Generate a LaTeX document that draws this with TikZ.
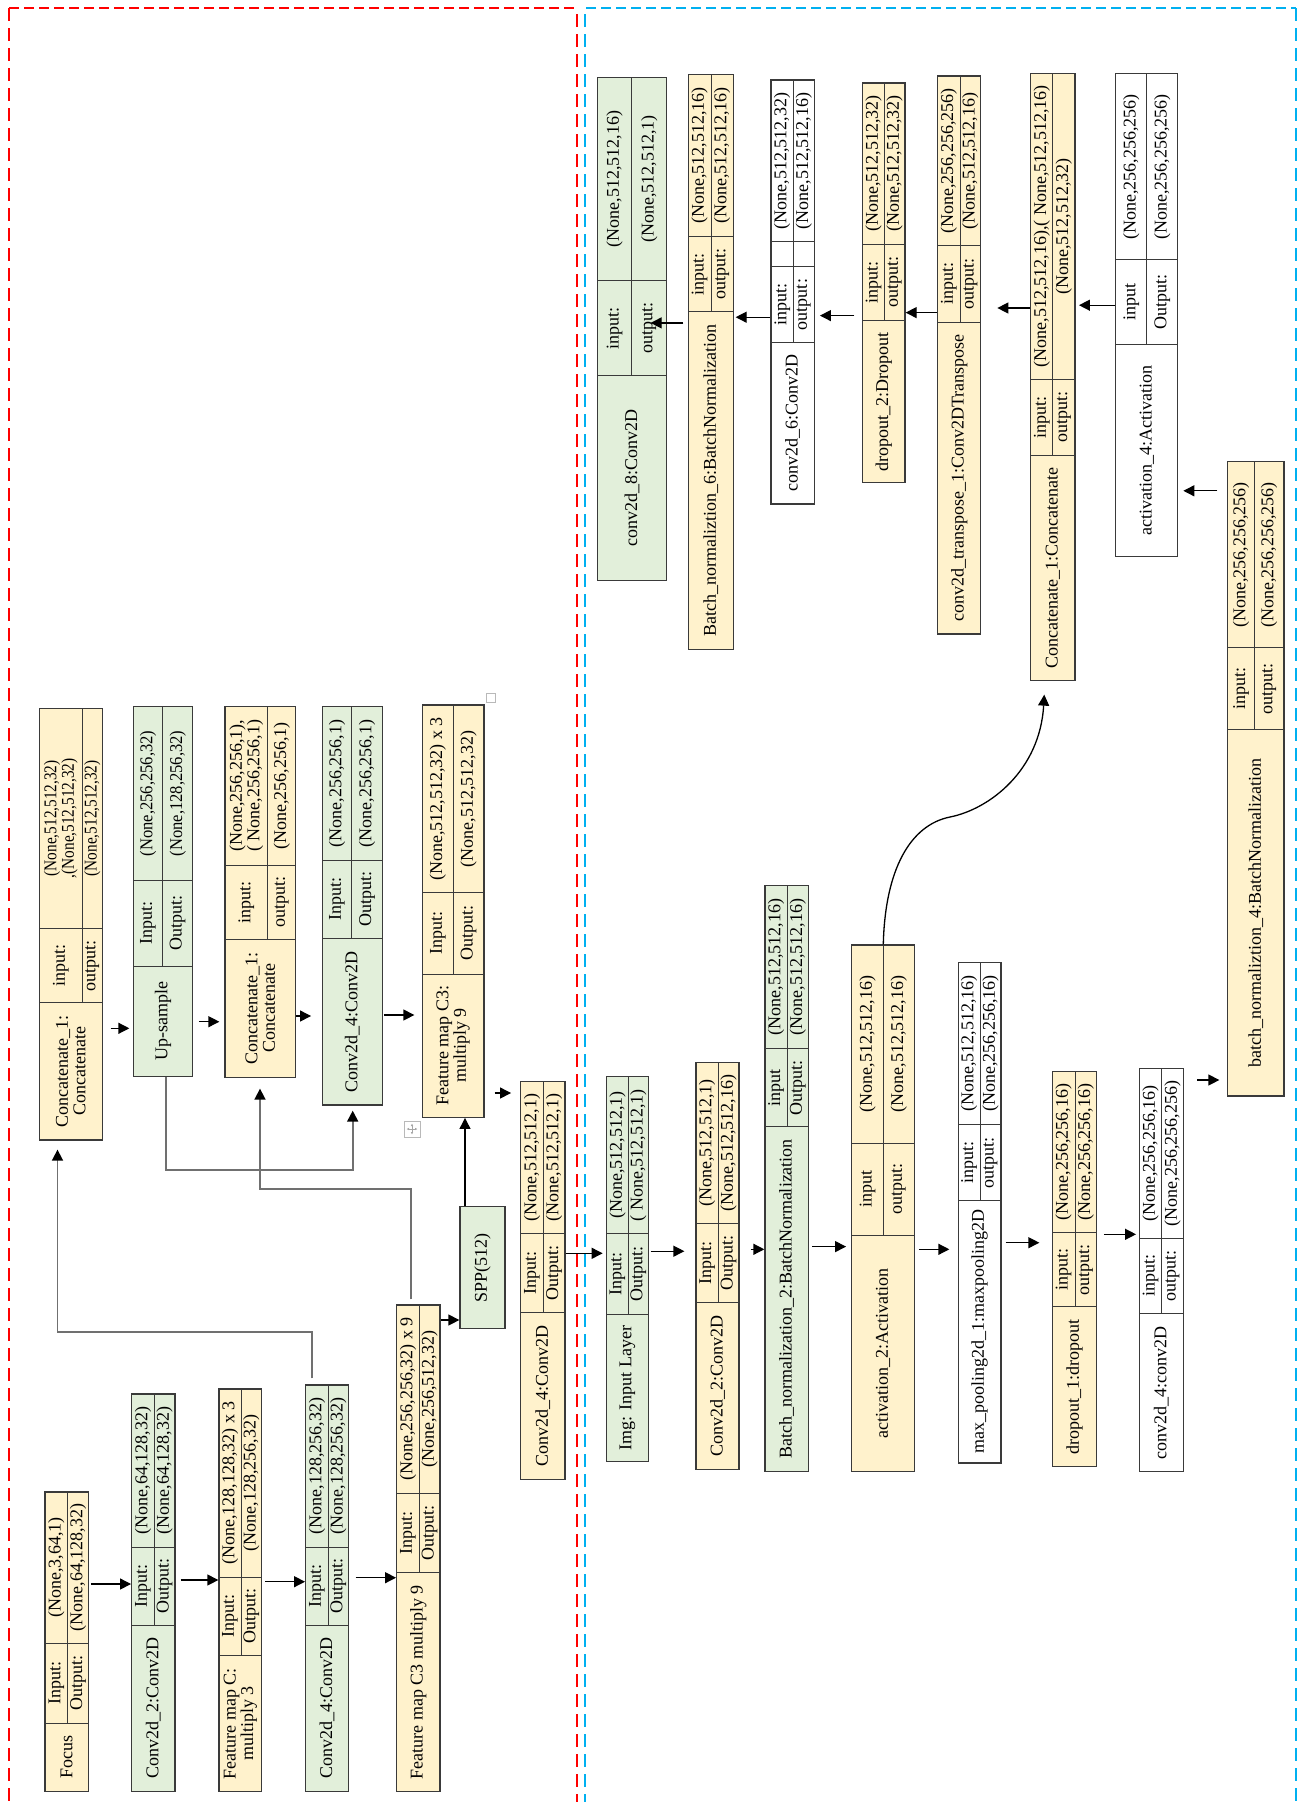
\documentclass[tikz,border=0pt]{standalone}
\usepackage{fontspec}
\usepackage{graphicx}
\setmainfont{Liberation Serif}
\usetikzlibrary{arrows.meta}
\definecolor{yel}{HTML}{FFF2CC}
\definecolor{grn}{HTML}{E2EFDA}
\definecolor{edge}{HTML}{3A3A3A}
\definecolor{fred}{HTML}{FF0000}
\definecolor{fblue}{HTML}{00B0F0}
\definecolor{gline}{HTML}{707070}
\newcommand\sq[2]{\scalebox{#1}[1]{#2}}
\tikzset{
 tbox/.style={draw=edge, line width=1.3pt, inner sep=0pt, rectangle},
 inner/.style={draw=edge, line width=1pt},
 tx/.style={rotate=90, inner sep=0pt, align=center, font=\fontsize{18}{17.5}\selectfont},
 arr/.style={draw=black, line width=1.3pt, -{Triangle[length=11pt,width=11pt]}},
 garr/.style={draw=gline, line width=1.7pt, -{Triangle[length=11pt,width=11pt,color=black]}},
 vframe/.style={line width=2.2pt, dash pattern=on 13pt off 7pt},
 hframe/.style={line width=2.8pt, dash pattern=on 10pt off 5pt},
 handle/.style={draw=gray!55, line width=0.8pt, inner sep=0pt, fill=white},
}
% name, fill, x0, xm, x1, ytop, ya, yb, ybot
\newcommand\mkbox[9]{%
 \node[tbox, fill=#2, minimum width={(#5)-(#3)}, minimum height={(#9)-(#6)}] (#1) at ({(#3+#5)/2},{(#6+#9)/2}) {};
 \draw[inner] (#4,#6) -- (#4,#8);
 \draw[inner] (#3,#7) -- (#5,#7);
 \draw[inner] (#3,#8) -- (#5,#8);
 \coordinate (#1-v1) at ({(#3+#4)/2},{(#6+#7)/2});
 \coordinate (#1-v2) at ({(#4+#5)/2},{(#6+#7)/2});
 \coordinate (#1-k1) at ({(#3+#4)/2},{(#7+#8)/2});
 \coordinate (#1-k2) at ({(#4+#5)/2},{(#7+#8)/2});
 \coordinate (#1-l) at ({(#3+#5)/2},{(#8+#9)/2});
}
% name, v1, v2, k1, k2, label
\newcommand\mktext[6]{%
 \node[tx] (#1-a) at (#1-v1) {#2};
 \node[tx] (#1-b) at (#1-v2) {#3};
 \node[tx] (#1-c) at (#1-k1) {#4};
 \node[tx] (#1-d) at (#1-k2) {#5};
 \node[tx] (#1-e) at (#1-l) {#6};
}
\begin{document}
\begin{tikzpicture}[x=1pt,y=-1pt]
\useasboundingbox (0,0) rectangle (1300,1802);
\fill[white] (0,0) rectangle (1300,1802);

% ---------- frames ----------
\draw[fred, hframe] (9,8) -- (578,8);
\draw[fred, vframe] (9,8) -- (9,1802);
\draw[fred, line width=1.2pt, dash pattern=on 13pt off 7pt] (577,14) -- (577,1802);
\draw[fblue, hframe] (586,8) -- (1296,8);
\draw[fblue, vframe] (585,14) -- (585,1802);
\draw[fblue, vframe] (1296,8) -- (1296,1802);

% ---------- left panel, bottom row ----------
\mkbox{focus}{yel}{45}{67.7}{88.3}{1492}{1643}{1723}{1791.7}
\mktext{focus}{(None,3,64,1)}{(None,64,128,32)}{Input:}{Output:}{Focus}
\mkbox{convA}{grn}{131.7}{154.3}{175}{1394}{1547}{1625}{1791.7}
\mktext{convA}{(None,64,128,32)}{(None,64,128,32)}{Input:}{Output:}{Conv2d\_2:Conv2D}
\mkbox{fmc}{yel}{219}{241}{261.7}{1389}{1577}{1655.7}{1791.7}
\mktext{fmc}{(None,128,128,32) x 3}{(None,128,256,32)}{Input:}{Output:}{Feature map C:\\multiply 3}
\mkbox{convB}{grn}{305.7}{328.3}{348.5}{1385}{1547}{1625}{1791.7}
\mktext{convB}{(None,128,256,32)}{(None,128,256,32)}{Input:}{Output:}{Conv2d\_4:Conv2D}
\mkbox{fmcn}{yel}{396.7}{419.3}{440}{1305}{1493}{1572.7}{1791.7}
\mktext{fmcn}{(None,256,256,32) x 9}{(None,256,512,32)}{Input:}{Output:}{Feature map C3 multiply 9}
\node[tbox, fill=grn, minimum width=45pt, minimum height=121.6pt] (spp) at (482.5,1267.5) {};
\node[tx] (spp-t) at (spp) {SPP(512)};

% ---------- left panel, top row ----------
\mkbox{concA}{yel}{39.3}{82.3}{102.3}{708.3}{928.3}{1002.7}{1140}
\mktext{concA}{\sq{0.85}{(None,512,512,32)}\\\sq{0.85}{,(None,512,512,32)}}{\sq{0.85}{(None,512,512,32)}}{input:}{output:}{Concatenate\_1:\\Concatenate}
\mkbox{ups}{grn}{133.3}{162.7}{192.7}{706.7}{880}{966}{1076.7}
\mktext{ups}{\sq{0.92}{(None,256,256,32)}}{\sq{0.92}{(None,128,256,32)}}{Input:}{Output:}{Up-sample}
\mkbox{concB}{yel}{225}{267.7}{295.7}{706.7}{865}{939.3}{1077.3}
\mktext{concB}{(None,256,256,1),\\( None,256,256,1)}{(None,256,256,1)}{input:}{output:}{Concatenate\_1:\\Concatenate}
\mkbox{convC}{grn}{322.3}{351.7}{382.3}{706.7}{860}{938.3}{1105}
\mktext{convC}{(None,256,256,1)}{(None,256,256,1)}{Input:}{Output:}{Conv2d\_4:Conv2D}
\mkbox{fmcc}{yel}{422.3}{453.3}{484}{705}{892.7}{974}{1117.3}
\mktext{fmcc}{(None,512,512,32) x 3}{(None,512,512,32)}{Input:}{Output:}{Feature map C3:\\multiply 9}
\mkbox{convD}{yel}{520.7}{543.3}{565}{1081.7}{1233.3}{1312.3}{1479.3}
\mktext{convD}{(None,512,512,1)}{(None,512,512,1)}{Input:}{Output:}{Conv2d\_4:Conv2D}

% Word table handles
\node[handle, minimum size=9pt] (hnd1) at (491,698) {};
\node[handle, minimum size=16pt] (hnd2) at (412,1129) {};
\draw[gray!70, line width=0.6pt, {Latex[length=2.5pt,width=2.5pt]}-{Latex[length=2.5pt,width=2.5pt]}] ([xshift=-5.5pt]hnd2.center) -- ([xshift=5.5pt]hnd2.center);
\draw[gray!70, line width=0.6pt, {Latex[length=2.5pt,width=2.5pt]}-{Latex[length=2.5pt,width=2.5pt]}] ([yshift=-5.5pt]hnd2.center) -- ([yshift=5.5pt]hnd2.center);

% ---------- right panel, lower row ----------
\mkbox{img}{grn}{606.7}{628.3}{648.3}{1076.7}{1233.3}{1314}{1461.7}
\mktext{img}{(None,512,512,1)}{( None,512,512,1)}{Input:}{Output:}{Img: Input Layer}
\mkbox{convE}{yel}{696}{718.3}{739}{1062.5}{1223.6}{1302.8}{1469.3}
\mktext{convE}{(None,512,512,1)}{(None,512,512,16)}{Input:}{Output:}{Conv2d\_2:Conv2D}
\mkbox{bnb}{grn}{765}{787.3}{808.3}{885.7}{1048.4}{1126.8}{1471.2}
\mktext{bnb}{(None,512,512,16)}{(None,512,512,16)}{input}{Output:}{Batch\_normalization\_2:BatchNormalization}
\mkbox{actb}{yel}{851.7}{883.3}{914.3}{945}{1143.3}{1235.1}{1471.2}
\mktext{actb}{(None,512,512,16)}{(None,512,512,16)}{input}{output:}{activation\_2:Activation}
\mkbox{mp}{white}{958.3}{980}{1001}{962.3}{1124.9}{1200.7}{1463}
\mktext{mp}{(None,512,512,16)}{(None,256,256,16)}{input:}{output:}{max\_pooling2d\_1:maxpooling2D}
\mkbox{dra}{yel}{1052.3}{1075}{1096.7}{1071.7}{1232.7}{1306.7}{1466.7}
\mktext{dra}{(None,256,256,16)}{(None,256,256,16)}{input:}{output:}{dropout\_1:dropout}
\mkbox{convF}{white}{1139.3}{1161.7}{1183.3}{1068.3}{1238.3}{1313.3}{1471.7}
\mktext{convF}{(None,256,256,16)}{(None,256,256,256)}{input:}{output:}{conv2d\_4:conv2D}
\mkbox{bnd}{yel}{1227.7}{1254.3}{1284}{461.8}{647.8}{729.9}{1096.1}
\mktext{bnd}{(None,256,256,256)}{(None,256,256,256)}{input:}{output:}{batch\_normaliztion\_4:BatchNormalization}

% ---------- right panel, upper row ----------
\mkbox{actd}{white}{1115.7}{1146.7}{1177.7}{73.8}{259.7}{344.7}{556.2}
\mktext{actd}{(None,256,256,256)}{(None,256,256,256)}{input}{Output:}{activation\_4:Activation}
\mkbox{concC}{yel}{1030.7}{1052.7}{1075}{73.4}{379.5}{455.3}{680.7}
\mktext{concC}{(None,512,512,16),( None,512,512,16)}{(None,512,512,32)}{input:}{output:}{Concatenate\_1:Concatenate}
\mkbox{cta}{yel}{937.7}{960}{980.7}{76.1}{245.6}{322.1}{634}
\mktext{cta}{(None,256,256,256)}{(None,512,512,16)}{input:}{output:}{conv2d\_transpose\_1:Conv2DTranspose}
\mkbox{drb}{yel}{862.7}{884.3}{905}{83}{244.4}{320.2}{482.8}
\mktext{drb}{(None,512,512,32)}{(None,512,512,32)}{input:}{output:}{dropout\_2:Dropout}
\mkbox{convG}{white}{771}{793.3}{814.3}{79.9}{241.8}{342.4}{503.9}
\draw[inner] (771,266.6) -- (814.3,266.6);
\node[tx] (convG-a) at (convG-v1) {(None,512,512,32)};
\node[tx] (convG-b) at (convG-v2) {(None,512,512,16)};
\node[tx] (convG-c) at (782.2,304.5) {input:};
\node[tx] (convG-d) at (803.8,304.5) {output:};
\node[tx] (convG-e) at (convG-l) {conv2d\_6:Conv2D};
\mkbox{bnf}{yel}{688.3}{711}{733.3}{74.5}{236.8}{311.8}{649.3}
\mktext{bnf}{(None,512,512,16)}{(None,512,512,16)}{input:}{output:}{Batch\_normaliztion\_6:BatchNormalization}
\mkbox{convH}{grn}{597.3}{631.7}{666.7}{77.2}{280.8}{375.7}{580.4}
\mktext{convH}{(None,512,512,16)}{(None,512,512,1)}{input:}{output:}{conv2d\_8:Conv2D}

% ---------- connectors: left panel ----------
\draw[arr, shorten <=2pt] (focus.east |- 0,1584) -- (convA.west |- 0,1584);
\draw[arr, shorten <=5pt] (convA.east |- 0,1580) -- (fmc.west |- 0,1580);
\draw[arr, shorten <=3pt] (fmc.east |- 0,1581.7) -- (convB.west |- 0,1581.7);
\draw[arr, shorten <=6.5pt] (convB.east |- 0,1577.7) -- (fmcn.west |- 0,1577.7);
\draw[arr] (fmcn.east |- 0,1320) -- (spp.west |- 0,1320);
\draw[arr] (spp.north -| 465,0) -- (fmcc.south -| 465,0);
\draw[arr, shorten <=7.7pt, shorten >=3.3pt] (concA.east |- 0,1028.3) -- (ups.west |- 0,1028.3);
\draw[arr, shorten <=5.6pt, shorten >=5pt] (ups.east |- 0,1021.7) -- (concB.west |- 0,1021.7);
\draw[arr, shorten >=10.6pt] (concB.east |- 0,1016) -- (convC.west |- 0,1016);
\draw[arr, shorten <=1pt, shorten >=7.3pt] (convC.east |- 0,1015) -- (fmcc.west |- 0,1015);
\draw[arr, shorten <=10pt, shorten >=9pt] (fmcc.east |- 0,1093) -- (convD.west |- 0,1093);
\draw[arr, shorten >=3.4pt] (convD.east |- 0,1253.3) -- (img.west |- 0,1253.3);
\draw[garr, shorten <=6pt, shorten >=9pt] (convB.north -| 311.7,0) -- (311.7,1331.7) -- (57.5,1331.7) -- (concA.south -| 57.5,0);
\draw[garr, shorten >=5pt] (ups.south -| 165.7,0) -- (165.7,1170) -- (352.7,1170) -- (convC.south -| 352.7,0);
\draw[garr, shorten <=5pt, shorten >=10.7pt] (fmcn.north -| 411,0) -- (411,1189) -- (260,1189) -- (concB.south -| 260,0);

% ---------- connectors: right panel ----------
\draw[arr, shorten <=1.7pt, shorten >=11pt] (img.east |- 0,1251.2) -- (convE.west |- 0,1251.2);
\draw[arr, shorten <=11pt] (convE.east |- 0,1249.3) -- (bnb.west |- 0,1249.3);
\draw[arr, shorten <=3.4pt, shorten >=5pt] (bnb.east |- 0,1246.6) -- (actb.west |- 0,1246.6);
\draw[arr, shorten <=4pt, shorten >=8.3pt] (actb.east |- 0,1249.3) -- (mp.west |- 0,1249.3);
\draw[arr, shorten <=4pt, shorten >=12.3pt] (mp.east |- 0,1242.7) -- (dra.west |- 0,1242.7);
\draw[arr, shorten <=6.6pt, shorten >=2.6pt] (dra.east |- 0,1234.3) -- (convF.west |- 0,1234.3);
\draw[arr, shorten <=13.4pt, shorten >=7.7pt] (convF.east |- 0,1080) -- (bnd.west |- 0,1080);
\draw[arr, shorten <=9.7pt, shorten >=5pt] (bnd.west |- 0,490.8) -- (actd.east |- 0,490.8);
\draw[arr, shorten >=3.3pt] (actd.west |- 0,305.2) -- (concC.east |- 0,305.2);
\draw[arr, shorten >=16pt] (concC.west |- 0,308) -- (cta.east |- 0,308);
\draw[arr] (cta.west |- 0,312.6) -- (drb.east |- 0,312.6);
\draw[arr, shorten <=7.7pt, shorten >=5pt] (drb.west |- 0,315.6) -- (convG.east |- 0,315.6);
\draw[arr, shorten <=0.7pt, shorten >=1.7pt] (convG.west |- 0,317.2) -- (bnf.east |- 0,317.2);
\draw[arr, shorten <=4.3pt, shorten >=-16.7pt] (bnf.west |- 0,322.9) -- (convH.east |- 0,322.9);
\draw[arr, shorten >=13.3pt] (actb.north -| 883.3,0) .. controls (885,870) and (910,825) .. (950,817) .. controls (990,809) and (1040,770) .. (concC.south -| 1045,0);
\end{tikzpicture}
\end{document}
